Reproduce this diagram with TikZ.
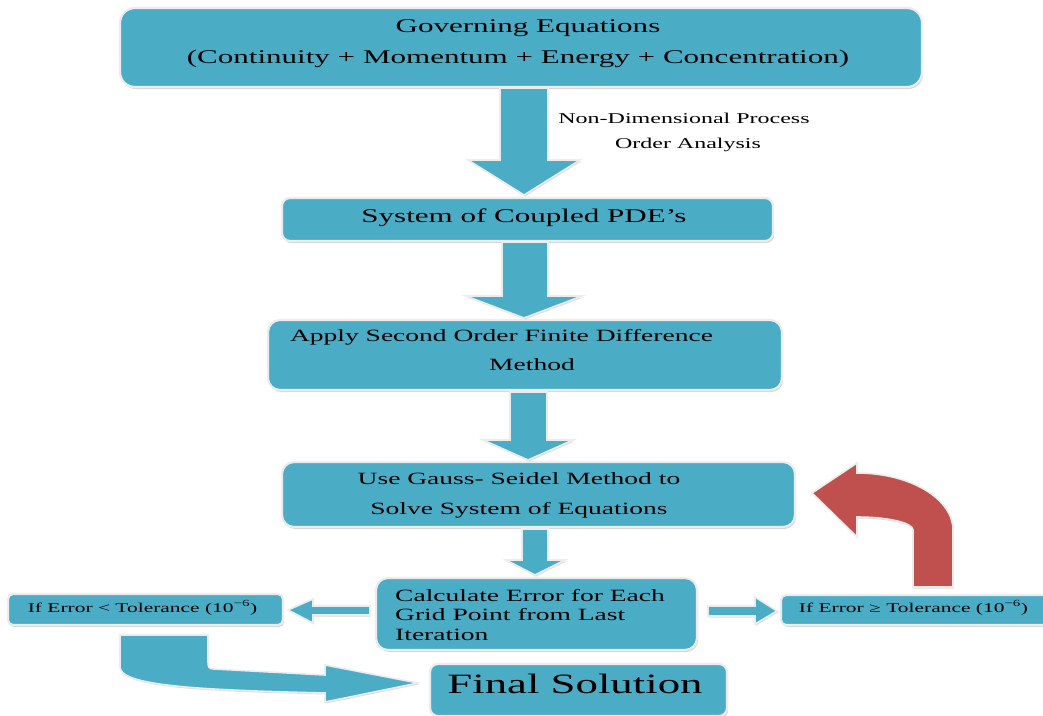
\documentclass[tikz,border=0pt]{standalone}
\usepackage{fontspec}
\usetikzlibrary{shadows}
\newfontfamily\wf[FakeStretch=1.6]{Liberation Serif}
\definecolor{boxblue}{HTML}{4BACC6}
\definecolor{arrred}{HTML}{C0504D}
\definecolor{rimgray}{HTML}{ECECEC}
\newcommand{\fs}[1]{\fontsize{#1}{#1}\selectfont}
\begin{document}
\begin{tikzpicture}[x=1pt,y=-1pt,
  boxstyle/.style={fill=boxblue, draw=rimgray, line width=2.2pt,
    drop shadow={shadow xshift=1.2pt, shadow yshift=-2pt, fill=gray!60, opacity=0.55}},
  arrstyle/.style={fill=boxblue, draw=rimgray, line width=1.6pt,
    drop shadow={shadow xshift=1pt, shadow yshift=-1.5pt, fill=gray!60, opacity=0.45}},
  redstyle/.style={fill=arrred, draw=rimgray, line width=1.6pt,
    drop shadow={shadow xshift=1pt, shadow yshift=-1.5pt, fill=gray!60, opacity=0.45}},
  txt/.style={anchor=base, inner sep=0pt, text=black, font=\wf}
]
\useasboundingbox (0,0) rectangle (1043,715);

% ---------- boxes ----------
\path[boxstyle, rounded corners=15pt] (120,8) rectangle (922,87);
\path[boxstyle, rounded corners=8pt] (282,198) rectangle (773,241);
\path[boxstyle, rounded corners=12pt] (268,320) rectangle (782,390);
\path[boxstyle, rounded corners=12pt] (282,462) rectangle (795,527);
\path[boxstyle, rounded corners=12pt] (376,578) rectangle (697,650);
\path[boxstyle, rounded corners=5pt] (8,594) rectangle (283,625);
\path[boxstyle, rounded corners=5pt] (781,595) rectangle (1060,625);
\path[boxstyle, rounded corners=8pt] (430,664) rectangle (727,716);

% ---------- down arrows ----------
\path[arrstyle] (500,88) -- (548,88) -- (548,160) -- (580,160) -- (524,195)
  -- (468,160) -- (500,160) -- cycle;
\path[arrstyle] (502,242) -- (548,242) -- (548,296) -- (582,296) -- (524,318)
  -- (466,296) -- (502,296) -- cycle;
\path[arrstyle] (510,392) -- (547,392) -- (547,440) -- (573,440) -- (528,460)
  -- (483,440) -- (510,440) -- cycle;
\path[arrstyle] (522,529) -- (548,529) -- (548,560) -- (565,560) -- (535,575)
  -- (506,560) -- (522,560) -- cycle;

% ---------- horizontal arrows ----------
\path[arrstyle] (370,606) -- (313,606) -- (313,599) -- (288,610) -- (313,623)
  -- (313,615) -- (370,615) -- cycle;
\path[arrstyle] (708,606) -- (755,606) -- (755,597) -- (777,611) -- (755,624)
  -- (755,616) -- (708,616) -- cycle;

% ---------- red return arrow ----------
\path[redstyle] (913,587) -- (913,530)
  .. controls (913,522.8) and (888,517) .. (857,517)
  -- (857,537) -- (812,493) -- (857,463) -- (857,473)
  .. controls (910,473) and (953,498.5) .. (953,530)
  -- (953,587) -- cycle;

% ---------- bottom curved arrow ----------
\path[arrstyle] (120,635) -- (120,667)
  .. controls (120,686) and (200,690) .. (325,693)
  -- (325,702) -- (418,683) -- (325,665) -- (325,675)
  -- (214,669) .. controls (209,669) and (208,667) .. (208,662)
  -- (208,635) -- cycle;

% ---------- texts ----------
\node[txt, font=\wf\fs{19.4}] (t1a) at (528,32) {Governing Equations};
\node[txt, font=\wf\fs{19.4}] (t1b) at (518,63) {(Continuity + Momentum + Energy + Concentration)};
\node[txt, font=\wf\fs{15}] (l1) at (684,123) {Non-Dimensional Process};
\node[txt, font=\wf\fs{15}] (l2) at (688,148) {Order Analysis};
\node[txt, font=\wf\fs{19.4}] (t2) at (524,222) {System of Coupled PDE’s};
\node[txt, font=\wf\fs{17.2}] (t3a) at (501.5,341) {Apply Second Order Finite Difference};
\node[txt, font=\wf\fs{17.2}] (t3b) at (532,370) {Method};
\node[txt, font=\wf\fs{17.2}] (t4a) at (519,484) {Use Gauss- Seidel Method to};
\node[txt, font=\wf\fs{17.2}] (t4b) at (519,514) {Solve System of Equations};
\node[txt, anchor=base west, font=\wf\fs{17.2}] (t5a) at (395,601) {Calculate Error for Each};
\node[txt, anchor=base west, font=\wf\fs{17.2}] (t5b) at (395,620) {Grid Point from Last};
\node[txt, anchor=base west, font=\wf\fs{17.2}] (t5c) at (395,640) {Iteration};
\node[txt, font=\wf\fs{13.4}] (t6) at (142.5,612) {If Error < Tolerance (10\textsuperscript{−6})};
\node[txt, font=\wf\fs{13.4}] (t7) at (913.5,612) {If Error ≥ Tolerance (10\textsuperscript{−6})};
\node[txt, font=\wf\fs{28}] (t8) at (575,693) {Final Solution};
\end{tikzpicture}
\end{document}
